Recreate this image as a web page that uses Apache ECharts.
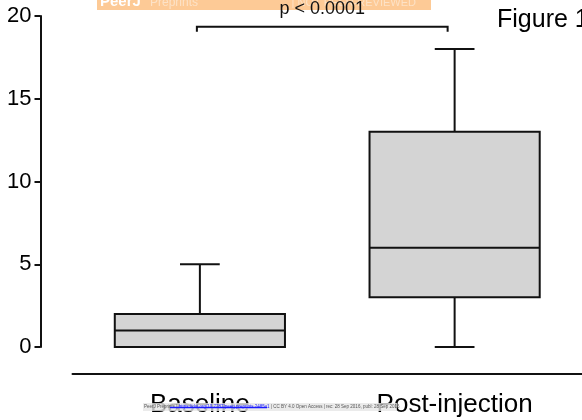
<!DOCTYPE html>
<html lang="en" style="width: 100%;height:100%">
    <head>
        <meta charset="UTF-8">
        <title>Boxplot</title>
        <script src="https://cdn.jsdelivr.net/npm/echarts@6/dist/echarts.min.js"></script>
        <style>
            html, body { margin: 0; padding: 0; background: #fff; }
        </style>
    </head>
    <body style="width: 100%;height:100%">
        <div id="box" style="width: 582px;height:420px"></div>
        <script>
            // groups and their five-number summaries
            const categories = ['Baseline', 'Post-injection'];
            const minList = [0, 0];
            const q1List = [0, 3];
            const medianList = [1, 6];
            const q3List = [2, 13];
            const maxList = [5, 18];
            const yTicks = [0, 5, 10, 15, 20];

            // significance bracket between the two groups
            const bracketLevel = 19.35;
            const pText = 'p < 0.0001';

            const boxData = [];
            for (let i = 0; i < categories.length; i++) {
                boxData.push([i, minList[i], q1List[i], medianList[i], q3List[i], maxList[i]]);
            }

            const font = '"Liberation Sans", Arial, Helvetica, sans-serif';
            const stroke = { stroke: '#111', lineWidth: 2 };

            function renderBox(params, api) {
                const idx = api.value(0);
                const x = api.coord([idx, 0])[0];
                const band = api.size([1, 0])[0];
                const half = band * 0.334;
                const cap = band * 0.078;
                const yMin = api.coord([idx, api.value(1)])[1];
                const yQ1 = api.coord([idx, api.value(2)])[1];
                const yMed = api.coord([idx, api.value(3)])[1];
                const yQ3 = api.coord([idx, api.value(4)])[1];
                const yMax = api.coord([idx, api.value(5)])[1];
                return {
                    type: 'group',
                    children: [
                        { type: 'line', shape: { x1: x, y1: yMax, x2: x, y2: yQ3 }, style: stroke },
                        { type: 'line', shape: { x1: x, y1: yQ1, x2: x, y2: yMin }, style: stroke },
                        { type: 'line', shape: { x1: x - cap, y1: yMax, x2: x + cap, y2: yMax }, style: stroke },
                        { type: 'line', shape: { x1: x - cap, y1: yMin, x2: x + cap, y2: yMin }, style: stroke },
                        {
                            type: 'rect',
                            shape: { x: x - half, y: yQ3, width: half * 2, height: yQ1 - yQ3 },
                            style: { fill: '#d4d4d4', stroke: '#111', lineWidth: 2 }
                        },
                        { type: 'line', shape: { x1: x - half, y1: yMed, x2: x + half, y2: yMed }, style: stroke }
                    ]
                };
            }

            function renderBracket(params, api) {
                const y = api.coord([0, api.value(2)])[1];
                const x0 = api.coord([api.value(0), 0])[0] - 3;
                const x1 = api.coord([api.value(1), 0])[0] - 7;
                return {
                    type: 'group',
                    children: [
                        {
                            type: 'polyline',
                            shape: { points: [[x0, y + 5], [x0, y], [x1, y], [x1, y + 5]] },
                            style: { stroke: '#111', lineWidth: 2, fill: null }
                        },
                        {
                            type: 'text',
                            z2: 10,
                            style: {
                                text: pText, x: (x0 + x1) / 2, y: y - 18,
                                align: 'center', verticalAlign: 'middle',
                                font: '18px ' + font, fill: '#111'
                            }
                        }
                    ]
                };
            }

            const myChart = echarts.init(document.getElementById('box'));

            const option = {
                animation: false,
                grid: { left: 72.5, right: 0, top: 16, bottom: 73, containLabel: false, outerBoundsMode: 'none' },
                xAxis: {
                    type: 'category',
                    data: categories,
                    offset: 27,
                    axisLine: { onZero: false, lineStyle: { color: '#111', width: 2 } },
                    axisTick: { show: false },
                    axisLabel: { fontSize: 26, fontFamily: font, color: '#000', margin: 18 },
                    splitLine: { show: false }
                },
                yAxis: {
                    type: 'value',
                    min: yTicks[0],
                    max: yTicks[yTicks.length - 1],
                    interval: 5,
                    offset: 32,
                    axisLine: { show: true, lineStyle: { color: '#111', width: 2 } },
                    axisTick: { show: true, length: 6, lineStyle: { color: '#111', width: 2 } },
                    axisLabel: { fontSize: 22, fontFamily: font, color: '#000', margin: 9 },
                    splitLine: { show: false }
                },
                graphic: [
                    // preprint watermark at the top
                    { type: 'rect', z: -1, shape: { x: 97, y: 0, width: 334, height: 10 }, style: { fill: '#fdca96' } },
                    { type: 'text', z: -1, style: { text: 'PeerJ', x: 100, y: 2, verticalAlign: 'middle', font: 'bold 15px ' + font, fill: '#fff' } },
                    { type: 'text', z: -1, style: { text: 'Preprints', x: 150, y: 3, verticalAlign: 'middle', font: '12px ' + font, fill: '#fde2c6' } },
                    { type: 'text', z: -1, style: { text: '| NOT PEER-REVIEWED', x: 416, y: 3, align: 'right', verticalAlign: 'middle', font: '11px ' + font, fill: '#fde2c6' } },
                    { type: 'text', style: { text: 'Figure 1', x: 497, y: 20, verticalAlign: 'middle', font: '25px ' + font, fill: '#000' } },
                    // footer line
                    { type: 'rect', z: 100, shape: { x: 143, y: 403, width: 254, height: 8 }, style: { fill: '#e6e6e6', opacity: 0.8 } },
                    {
                        type: 'text', z: 101,
                        style: {
                            text: '{g|PeerJ Preprints | }{b|https://doi.org/10.7287/peerj.preprints.2485v1}{g| | CC BY 4.0 Open Access | rec: 28 Sep 2016, publ: 28 Sep 2016}',
                            x: 144, y: 407, verticalAlign: 'middle',
                            rich: {
                                g: { fontSize: 4.5, fontFamily: font, fill: '#555' },
                                b: { fontSize: 4.5, fontFamily: font, fill: '#1a1aff' }
                            }
                        }
                    },
                    { type: 'line', z: 101, shape: { x1: 170, y1: 407.5, x2: 267, y2: 407.5 }, style: { stroke: '#1a1aff', lineWidth: 1.5 } }
                ],
                series: [
                    {
                        type: 'custom',
                        renderItem: renderBox,
                        encode: { x: 0, y: [1, 2, 3, 4, 5] },
                        data: boxData,
                        clip: false
                    },
                    {
                        type: 'custom',
                        renderItem: renderBracket,
                        encode: { x: 0, y: 2 },
                        data: [[0, 1, bracketLevel]],
                        clip: false
                    }
                ]
            };

            myChart.setOption(option);
        </script>
    </body>
</html>
